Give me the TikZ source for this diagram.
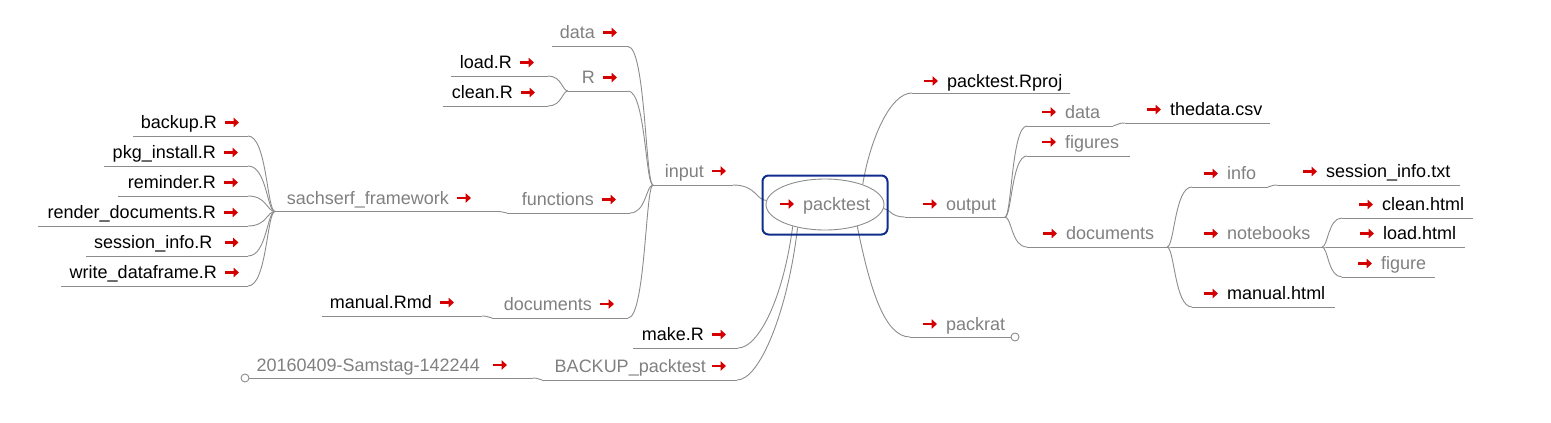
\documentclass[tikz,border=0pt]{standalone}
\usepackage{fontspec}
\setmainfont{Liberation Sans}
\usetikzlibrary{arrows.meta,calc,shapes.geometric}
\definecolor{MapLine}{HTML}{8C8C8C}
\definecolor{MapGray}{HTML}{808080}
\definecolor{MapRed}{HTML}{D40000}
\definecolor{MapBlue}{HTML}{0F2E8C}

\begin{document}
\begin{tikzpicture}[x=1pt,y=-1pt,font=\fontsize{18}{20}\selectfont]
    \tikzset{branch/.style={draw=MapLine,line width=0.9pt},
      curl/.style={to path={let \p1=(\tikztostart),\p2=(\tikztotarget) in
        .. controls ({\x1+0.3*(\x2-\x1)},\y1) and ({\x1+0.3*(\x2-\x1)},\y2) .. (\tikztotarget)}},
      dirtext/.style={inner sep=0pt,text=MapGray},
      filetext/.style={inner sep=0pt,text=black},
      linkicon/.style={draw=MapRed,line width=2.8pt,-{Triangle[length=5.5pt,width=9.5pt]}},
      endmark/.style={circle,draw=MapLine,line width=0.9pt,fill=white,minimum size=8pt,inner sep=0pt}}
    \useasboundingbox (0,0) rectangle (1551,423);

    % root
    \node[ellipse,draw=MapLine,line width=0.9pt,minimum width=118pt,minimum height=51pt,inner sep=0pt] (packtest) at (825,204.5) {};
    \node[dirtext,anchor=base west] (packtest-t) at (803,210) {packtest};

    % left side: text, underline ends (in = towards parent, out = towards children)
    \node[dirtext,anchor=base east] (input) at (704,177) {input};
    \coordinate (input-in) at (733,185); \coordinate (input-out) at (653,185);
    \node[dirtext,anchor=base east] (data1) at (595,38.5) {data};
    \coordinate (data1-in) at (628,46.5); \coordinate (data1-out) at (552,46.5);
    \node[dirtext,anchor=base east] (rdir) at (595,83.5) {R};
    \coordinate (rdir-in) at (628,91); \coordinate (rdir-out) at (568,91);
    \node[filetext,anchor=base east] (loadr) at (512,68.5) {load.R};
    \coordinate (loadr-in) at (548,76); \coordinate (loadr-out) at (451,76);
    \node[filetext,anchor=base east] (cleanr) at (513,98.5) {clean.R};
    \coordinate (cleanr-in) at (548,106); \coordinate (cleanr-out) at (443,106);
    \node[dirtext,anchor=base east] (functions) at (594,205.5) {functions};
    \coordinate (functions-in) at (630,213); \coordinate (functions-out) at (507,213);
    \node[dirtext,anchor=base east] (sachserf) at (449,204) {sachserf\_framework};
    \coordinate (sachserf-in) at (497,211.5); \coordinate (sachserf-out) at (275,211.5);
    \node[filetext,anchor=base east] (backup) at (217,128.5) {backup.R};
    \coordinate (backup-in) at (248,136); \coordinate (backup-out) at (133,136);
    \node[filetext,anchor=base east] (pkginstall) at (216,158.5) {pkg\_install.R};
    \coordinate (pkginstall-in) at (248,166); \coordinate (pkginstall-out) at (104,166);
    \node[filetext,anchor=base east] (reminder) at (216,188.5) {reminder.R};
    \coordinate (reminder-in) at (248,196); \coordinate (reminder-out) at (118,196);
    \node[filetext,anchor=base east] (render) at (216,218.5) {render\_documents.R};
    \coordinate (render-in) at (248,226); \coordinate (render-out) at (38,226);
    \node[filetext,anchor=base east] (session) at (212.5,248.5) {session\_info.R};
    \coordinate (session-in) at (248,256); \coordinate (session-out) at (86,256);
    \node[filetext,anchor=base east] (writedf) at (217,278.5) {write\_dataframe.R};
    \coordinate (writedf-in) at (248,286); \coordinate (writedf-out) at (61,286);
    \node[dirtext,anchor=base east] (docsl) at (592,310) {documents};
    \coordinate (docsl-in) at (628,318); \coordinate (docsl-out) at (492,318);
    \node[filetext,anchor=base east] (manualrmd) at (432,308.5) {manual.Rmd};
    \coordinate (manualrmd-in) at (482,316); \coordinate (manualrmd-out) at (322,316);
    \node[filetext,anchor=base east] (maker) at (704,340.5) {make.R};
    \coordinate (maker-in) at (738,348); \coordinate (maker-out) at (633,348);
    \node[dirtext,anchor=base east] (backuppk) at (706,372) {BACKUP\_packtest};
    \coordinate (backuppk-in) at (737,380); \coordinate (backuppk-out) at (542,380);
    \node[dirtext,anchor=base east] (dated) at (480,371) {20160409-Samstag-142244};
    \coordinate (dated-in) at (533,378); \coordinate (dated-out) at (249,378);

    % right side
    \node[filetext,anchor=base west] (rproj) at (947,87) {packtest.Rproj};
    \coordinate (rproj-in) at (912,93); \coordinate (rproj-out) at (1070,93);
    \node[dirtext,anchor=base west] (output) at (946,210) {output};
    \coordinate (output-in) at (905,217); \coordinate (output-out) at (1005,217);
    \node[dirtext,anchor=base west] (packrat) at (946,330) {packrat};
    \coordinate (packrat-in) at (910,337); \coordinate (packrat-out) at (1011,337);
    \node[dirtext,anchor=base west] (data2) at (1065,118) {data};
    \coordinate (data2-in) at (1027,126); \coordinate (data2-out) at (1113,126);
    \node[filetext,anchor=base west] (thedata) at (1170,115.5) {thedata.csv};
    \coordinate (thedata-in) at (1125,123); \coordinate (thedata-out) at (1270,123);
    \node[dirtext,anchor=base west] (figures) at (1065,148) {figures};
    \coordinate (figures-in) at (1027,156); \coordinate (figures-out) at (1130,156);
    \node[dirtext,anchor=base west] (docsr) at (1066,239.5) {documents};
    \coordinate (docsr-in) at (1027,247); \coordinate (docsr-out) at (1167,247);
    \node[dirtext,anchor=base west] (info) at (1227,179.5) {info};
    \coordinate (info-in) at (1192,187); \coordinate (info-out) at (1268,187);
    \node[filetext,anchor=base west] (sessiontxt) at (1326,177.5) {session\_info.txt};
    \coordinate (sessiontxt-in) at (1277,185); \coordinate (sessiontxt-out) at (1460,185);
    \node[dirtext,anchor=base west] (notebooks) at (1227,239.5) {notebooks};
    \coordinate (notebooks-in) at (1172,247); \coordinate (notebooks-out) at (1322,247);
    \node[filetext,anchor=base west] (manualhtml) at (1227,299.5) {manual.html};
    \coordinate (manualhtml-in) at (1192,307); \coordinate (manualhtml-out) at (1335,307);
    \node[filetext,anchor=base west] (cleanhtml) at (1382,210.5) {clean.html};
    \coordinate (cleanhtml-in) at (1342,218); \coordinate (cleanhtml-out) at (1473,218);
    \node[filetext,anchor=base west] (loadhtml) at (1383,239.5) {load.html};
    \coordinate (loadhtml-in) at (1327,247); \coordinate (loadhtml-out) at (1465,247);
    \node[dirtext,anchor=base west] (figure) at (1381,269.5) {figure};
    \coordinate (figure-in) at (1342,277); \coordinate (figure-out) at (1435,277);

    % underlines
    \foreach \n in {input,data1,rdir,loadr,cleanr,functions,sachserf,backup,pkginstall,reminder,
                    render,session,writedf,docsl,manualrmd,maker,backuppk,dated,rproj,output,packrat,
                    data2,thedata,figures,docsr,info,sessiontxt,notebooks,manualhtml,cleanhtml,loadhtml,figure}
      \draw[branch] (\n-in) -- (\n-out);

    % edges
    \draw[branch] (packtest.176) to[curl] (input-in);
    \draw[branch] (packtest.214) .. controls (783,300) and (758,348) .. (maker-in);
    \draw[branch] (packtest.220) .. controls (788,310) and (760,380) .. (backuppk-in);
    \draw[branch] (packtest.28) .. controls (870,140) and (890,93) .. (rproj-in);
    \draw[branch] (packtest.356) to[curl] (output-in);
    \draw[branch] (packtest.326) .. controls (870,290) and (885,337) .. (packrat-in);
    \foreach \c in {data1,rdir,functions,docsl}
      \draw[branch] (input-out) to[curl] (\c-in);
    \foreach \c in {loadr,cleanr}
      \draw[branch] (rdir-out) to[curl] (\c-in);
    \draw[branch] (functions-out) to[curl] (sachserf-in);
    \foreach \c in {backup,pkginstall,reminder,render,session,writedf}
      \draw[branch] (sachserf-out) to[curl] (\c-in);
    \draw[branch] (docsl-out) to[curl] (manualrmd-in);
    \draw[branch] (backuppk-out) to[curl] (dated-in);
    \foreach \c in {data2,figures,docsr}
      \draw[branch] (output-out) to[curl] (\c-in);
    \draw[branch] (data2-out) to[curl] (thedata-in);
    \foreach \c in {info,notebooks,manualhtml}
      \draw[branch] (docsr-out) to[curl] (\c-in);
    \draw[branch] (info-out) to[curl] (sessiontxt-in);
    \foreach \c in {cleanhtml,loadhtml,figure}
      \draw[branch] (notebooks-out) to[curl] (\c-in);

    % root frame and end marks
    \node[draw=MapBlue,line width=2pt,rounded corners=6pt,minimum width=125pt,minimum height=59pt,inner sep=0pt] (rootbox) at (825,205) {};
    \node[endmark] (packrat-end) at (1015,337) {};
    \node[endmark] (dated-end) at (245,378) {};

    % link icons
    \foreach \n in {input,data1,rdir,loadr,cleanr,functions,sachserf,backup,pkginstall,reminder,
                    render,writedf,docsl,manualrmd,maker}
      \draw[linkicon] ([shift={(8,-6)}]\n.base east) -- ++(14,0);
    \draw[linkicon] ([shift={(12,-6)}]session.base east) -- ++(14,0);
    \draw[linkicon] ([shift={(6,-6)}]backuppk.base east) -- ++(14,0);
    \draw[linkicon] ([shift={(13,-6)}]dated.base east) -- ++(14,0);
    \foreach \n in {packtest-t,rproj,output,packrat,data2,thedata,figures,docsr,info,sessiontxt,
                    notebooks,manualhtml,cleanhtml,loadhtml,figure}
      \draw[linkicon] ([shift={(-23,-6)}]\n.base west) -- ++(14,0);
  \end{tikzpicture}
\end{document}
